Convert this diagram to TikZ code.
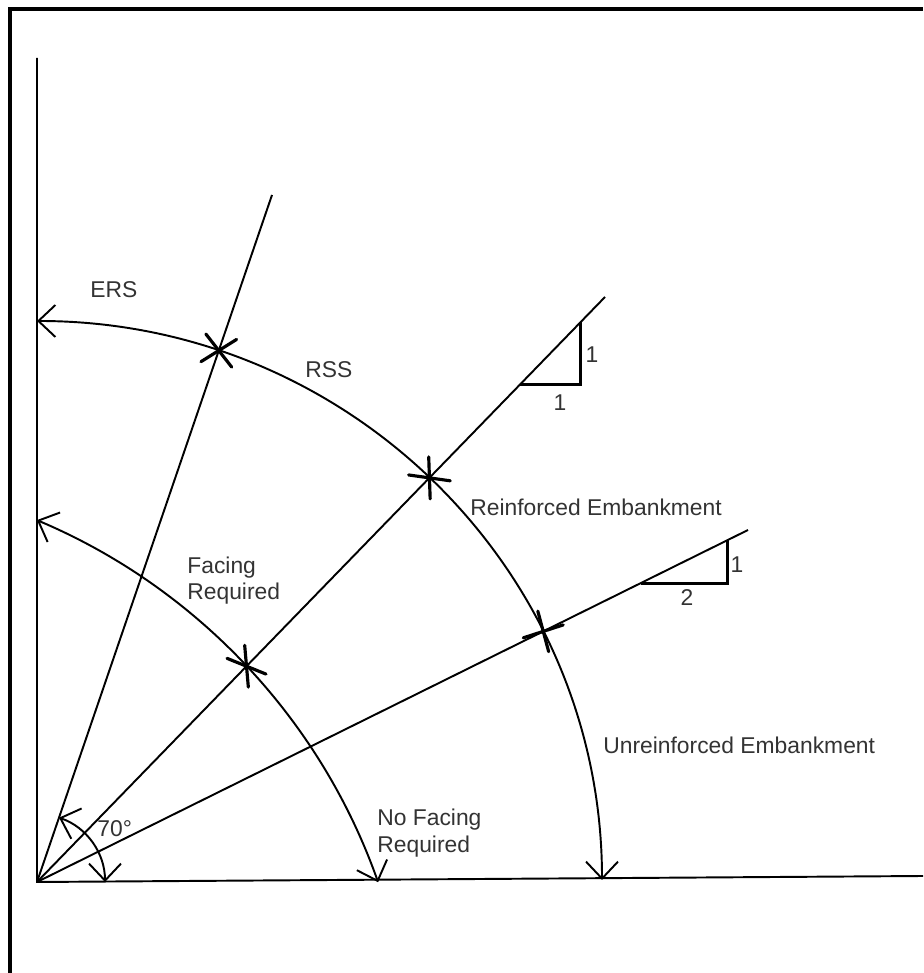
\documentclass[tikz,border=0pt]{standalone}
\usepackage{fontspec}
\setmainfont{Liberation Sans}
\usepackage{tikz}
\usetikzlibrary{arrows.meta,calc,intersections}
\tikzset{
  lbl/.style={font=\fontsize{13}{15}\selectfont,text=black!80,inner sep=0pt},
  guide/.style={line width=1.1pt},
  vv/.style={line width=1.1pt,{Straight Barb[length=3.4mm,width=6.4mm]}-{Straight Barb[length=3.4mm,width=6.4mm]}},
  tickmark/.style={line width=1.8pt,line cap=round},
  leg/.style={line width=1.7pt}
}
% two short strokes through a point
\newcommand{\crossmark}[3]{%
  \draw[tickmark] ($(#1)+(#2:0.42)$) -- ($(#1)-(#2:0.42)$);
  \draw[tickmark] ($(#1)+(#3:0.42)$) -- ($(#1)-(#3:0.42)$);
}

\begin{document}
\begin{tikzpicture}[x=1cm,y=1cm]
    \useasboundingbox (0,0) rectangle (18.46,19.46);
    % frame
    \draw[line width=2.4pt] (0.2,0) -- (0.2,19.28) -- (18.46,19.28);
    % axes and slope lines
    \coordinate (O) at (0.74,1.82);
    \coordinate (vtop) at (0.74,18.3);
    \coordinate (hend) at (18.46,1.94);
    \coordinate (e70) at (5.44,15.56);
    \coordinate (e45) at (12.1,13.52);
    \coordinate (e27) at (14.96,8.86);
    \draw[guide] (vtop) -- (O) -- (hend);
    \draw[guide,name path=l70] (O) -- (e70);
    \draw[guide,name path=l45] (O) -- (e45);
    \draw[guide,name path=l27] (O) -- (e27);
    % arcs
    \draw[vv,name path=outer] ($(O)+(11.3,0.04)$) arc[start angle=0,end angle=90,x radius=11.3,y radius=11.18];
    \draw[vv,name path=inner] (-4.06,-2.3) ++(19.5:12.33) arc[start angle=19.5,end angle=67.1,radius=12.33];
    \draw[vv] ($(O)+(1.36,0)$) arc[start angle=0,end angle=71.1,radius=1.36];
    % crossings
    \path[name intersections={of=l70 and outer,by=s1}];
    \path[name intersections={of=l45 and outer,by=s2}];
    \path[name intersections={of=l27 and outer,by=s3}];
    \path[name intersections={of=l45 and inner,by=s4}];
    \crossmark{s1}{-52}{32}
    \crossmark{s2}{92}{-8}
    \crossmark{s3}{105}{18}
    \crossmark{s4}{95}{-22}
    % slope triangles
    \coordinate (t1a) at ($(O)!0.8512!(e45)$);
    \coordinate (t1b) at ($(O)!0.9577!(e45)$);
    \coordinate (t1c) at (t1b |- t1a);
    \draw[leg] (t1a) -- (t1c) -- (t1b);
    \coordinate (t2a) at ($(O)!0.8494!(e27)$);
    \coordinate (t2b) at ($(O)!0.9705!(e27)$);
    \coordinate (t2c) at (t2b |- t2a);
    \draw[leg] (t2a) -- (t2c) -- (t2b);
    \node[lbl] (r1v) at (11.84,12.36) {1};
    \node[lbl] (r1h) at (11.2,11.4) {1};
    \node[lbl] (r2v) at (14.74,8.16) {1};
    \node[lbl] (r2h) at (13.74,7.5) {2};
    % region labels
    \node[lbl,anchor=base west] (ers) at (1.8,13.5) {ERS};
    \node[lbl,anchor=base west] (rss) at (6.1,11.9) {RSS};
    \node[lbl,anchor=base west] (reinf) at (9.4,9.14) {Reinforced Embankment};
    \node[lbl,anchor=north west,align=left,font=\fontsize{13}{14.5}\selectfont] (facing) at (3.74,8.32) {Facing\\Required};
    \node[lbl,anchor=base west] (unreinf) at (12.06,4.38) {Unreinforced Embankment};
    \node[lbl,anchor=north west,align=left,font=\fontsize{13}{15}\selectfont] (nofacing) at (7.54,3.28) {No Facing\\Required};
    \node[lbl,anchor=base west] (ang) at (1.94,2.72) {70°};
\end{tikzpicture}
\end{document}
